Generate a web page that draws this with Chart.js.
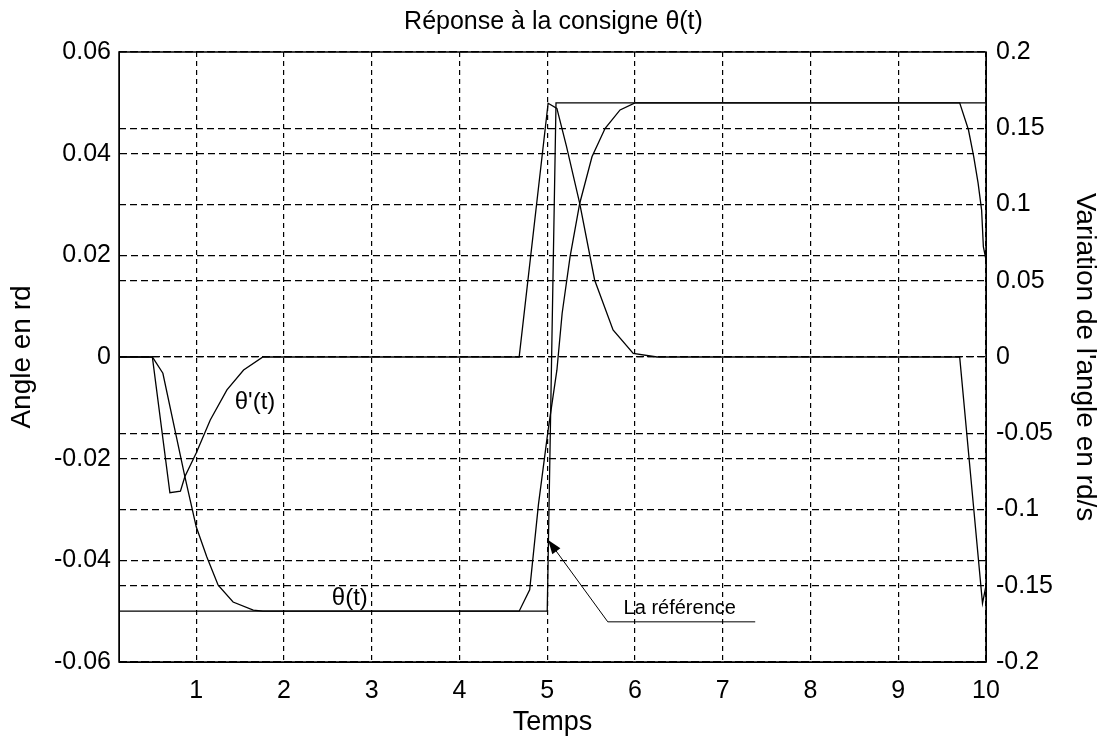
<!DOCTYPE html>
<html>
<head>
<meta charset="utf-8">
<title>Réponse à la consigne θ(t)</title>
<script src="https://cdn.jsdelivr.net/npm/chart.js@4.4.1/dist/chart.umd.min.js"></script>
<style>
  html, body { margin: 0; padding: 0; background: #fff; }
  #wrap { width: 1107px; height: 743px; }
</style>
</head>
<body>
<div id="wrap"><canvas id="myChart" width="1107" height="743"></canvas></div>
<script>
// graduations
const xTicks = [1, 2, 3, 4, 5, 6, 7, 8, 9, 10];
const leftTicks = [-0.06, -0.04, -0.02, 0, 0.02, 0.04, 0.06];
const rightTicks = [-0.2, -0.15, -0.1, -0.05, 0, 0.05, 0.1, 0.15, 0.2];

// consigne (la référence), axe gauche
const refTime = [0.12, 5.0, 5.1, 10];
const refAngle = [-0.05, -0.05, 0.05, 0.05];

// réponse theta(t), axe gauche
const thetaTime = [0.12, 0.5, 0.62, 0.87, 1.0, 1.12, 1.25, 1.42, 1.65, 1.76,
	4.68, 4.8, 4.9, 5.01, 5.11, 5.17, 5.26, 5.37, 5.51, 5.66, 5.83, 6.0,
	9.7, 9.8, 9.86, 9.91, 9.95, 9.97, 10];
const thetaAngle = [0, 0, -0.0032, -0.0235, -0.0334, -0.0393, -0.0449, -0.0482, -0.0498, -0.05,
	-0.05, -0.0458, -0.029, -0.0144, -0.0026, 0.0086, 0.0197, 0.0302, 0.0394, 0.045, 0.0486, 0.05,
	0.05, 0.0447, 0.0394, 0.0342, 0.0289, 0.0217, 0.0191];

// theta'(t), axe droit
const dthetaTime = [0.12, 0.5, 0.7, 0.82, 0.87, 1.0, 1.16, 1.35, 1.54, 1.76,
	4.68, 5.01, 5.11, 5.22, 5.37, 5.54, 5.75, 5.98, 6.25, 9.7, 9.96, 10];
const dthetaRate = [0, 0, -0.089, -0.088, -0.0785, -0.063, -0.0413, -0.0216, -0.0085, 0,
	0, 0.1664, 0.163, 0.138, 0.1008, 0.0505, 0.0177, 0.0024, 0, 0, -0.1615, -0.15];

// textes sur le graphe (coordonnées axe gauche)
const notes = [
	{ text: "θ'(t)", t: 1.67, v: -0.0089, size: 24 },
	{ text: "θ(t)", t: 2.75, v: -0.0474, size: 24 },
	{ text: "La référence", t: 6.51, v: -0.0494, size: 20 },
];
const arrowPath = [[5.01, -0.036], [5.69, -0.0521], [7.37, -0.0521]];

const fontFamily = "'Liberation Sans', Arial, sans-serif";
Chart.defaults.font.family = fontFamily;
Chart.defaults.color = "#000";

const toPoints = (xs, ys) => xs.map((t, i) => ({ x: t, y: ys[i] }));

const decorations = {
	id: "decorations",
	afterDatasetsDraw(chart) {
		const { ctx, chartArea: a, scales: { x, y } } = chart;
		ctx.save();
		ctx.setLineDash([]);
		ctx.strokeStyle = "#000";
		ctx.fillStyle = "#000";
		ctx.lineWidth = 1.5;
		ctx.strokeRect(a.left, a.top, a.right - a.left, a.bottom - a.top);

		// flèche vers la référence
		const pts = arrowPath.map(p => [x.getPixelForValue(p[0]), y.getPixelForValue(p[1])]);
		ctx.lineWidth = 1;
		ctx.beginPath();
		ctx.moveTo(pts[0][0], pts[0][1]);
		pts.slice(1).forEach(p => ctx.lineTo(p[0], p[1]));
		ctx.stroke();
		const [tx, ty] = pts[0];
		const ang = Math.atan2(ty - pts[1][1], tx - pts[1][0]);
		ctx.beginPath();
		ctx.moveTo(tx, ty);
		ctx.lineTo(tx - 14 * Math.cos(ang) + 5 * Math.sin(ang), ty - 14 * Math.sin(ang) - 5 * Math.cos(ang));
		ctx.lineTo(tx - 14 * Math.cos(ang) - 5 * Math.sin(ang), ty - 14 * Math.sin(ang) + 5 * Math.cos(ang));
		ctx.closePath();
		ctx.fill();

		ctx.textAlign = "center";
		ctx.textBaseline = "middle";
		notes.forEach(n => {
			ctx.font = n.size + "px " + fontFamily;
			ctx.fillText(n.text, x.getPixelForValue(n.t), y.getPixelForValue(n.v));
		});
		ctx.restore();
	}
};

const lineStyle = {
	borderColor: "#000",
	borderWidth: 1.3,
	pointRadius: 0,
	tension: 0,
	fill: false,
};

const config = {
	type: "line",
	data: {
		datasets: [
			{ ...lineStyle, label: "Référence", data: toPoints(refTime, refAngle), yAxisID: "y" },
			{ ...lineStyle, label: "θ(t)", data: toPoints(thetaTime, thetaAngle), yAxisID: "y" },
			{ ...lineStyle, label: "θ'(t)", data: toPoints(dthetaTime, dthetaRate), yAxisID: "y2" },
		],
	},
	options: {
		responsive: false,
		animation: false,
		devicePixelRatio: 1,
		layout: { padding: 0 },
		plugins: {
			legend: { display: false },
			tooltip: { enabled: false },
			title: {
				display: true,
				text: "Réponse à la consigne θ(t)",
				font: { size: 25, weight: "normal" },
				color: "#000",
				padding: { top: 7, bottom: 15 },
			},
		},
		scales: {
			x: {
				type: "linear",
				min: 0.12,
				max: 10,
				afterBuildTicks: s => { s.ticks = xTicks.map(v => ({ value: v })); },
				afterFit: s => { s.height = 81; },
				ticks: { font: { size: 25 }, padding: 14, maxRotation: 0, callback: v => String(v) },
				grid: { color: "#000", lineWidth: 1.2, drawTicks: false },
				border: { dash: [5, 4], color: "#000" },
				title: { display: true, text: "Temps", font: { size: 27 }, padding: { bottom: 4 } },
			},
			y: {
				position: "left",
				min: -0.06,
				max: 0.06,
				afterBuildTicks: s => { s.ticks = leftTicks.map(v => ({ value: v })); },
				afterFit: s => { s.width = 119; },
				ticks: { font: { size: 25 }, padding: 8, callback: v => String(v) },
				grid: { color: "#000", lineWidth: 1.2, drawTicks: false },
				border: { dash: [7, 4], color: "#000" },
				title: { display: true, text: "Angle en rd", font: { size: 28 }, padding: { top: 5 } },
			},
			y2: {
				position: "right",
				min: -0.2,
				max: 0.2,
				afterBuildTicks: s => { s.ticks = rightTicks.map(v => ({ value: v })); },
				afterFit: s => { s.width = 121; },
				ticks: { font: { size: 25 }, padding: 10, callback: v => String(v) },
				grid: { color: "#000", lineWidth: 1.2, drawTicks: false },
				border: { dash: [7, 4], color: "#000" },
				title: { display: true, text: "Variation de l'angle en rd/s", font: { size: 28 }, padding: { top: 5 } },
			},
		},
	},
	plugins: [decorations],
};

new Chart(document.getElementById("myChart"), config);
</script>
</body>
</html>
